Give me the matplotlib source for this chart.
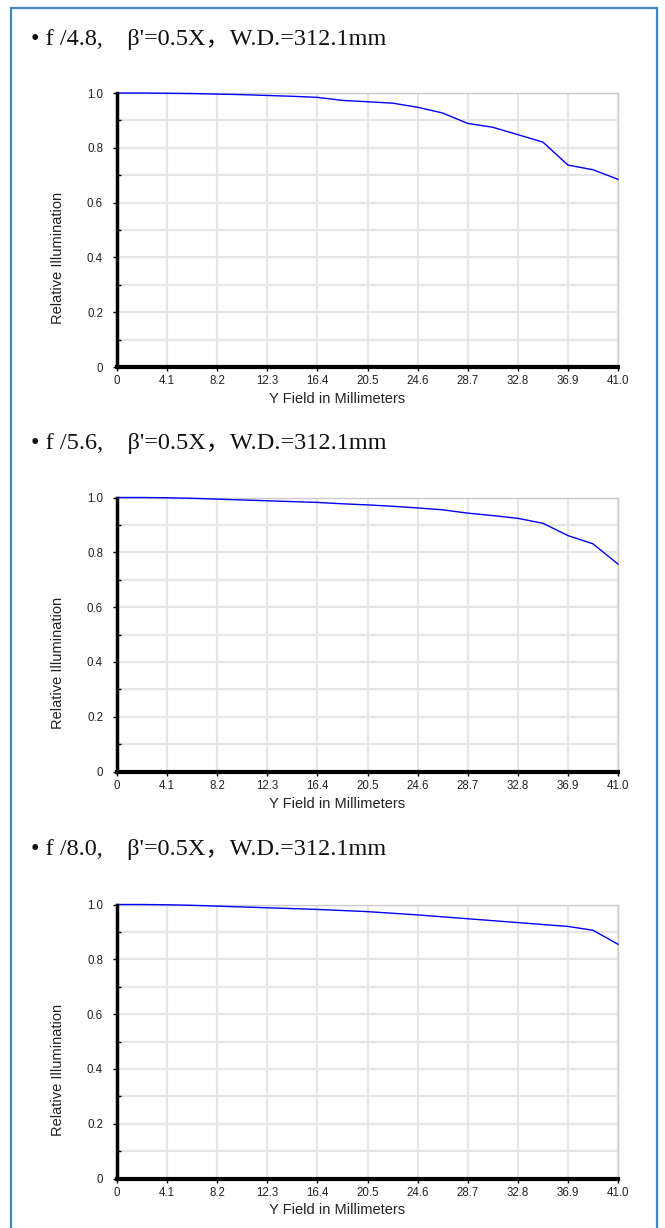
import numpy as np
import matplotlib.pyplot as plt
from matplotlib.patches import Rectangle

# field positions (mm), sampled every 2.05 mm
field = [0, 2.05, 4.1, 6.15, 8.2, 10.25, 12.3, 14.35, 16.4, 18.45, 20.5,
         22.55, 24.6, 26.65, 28.7, 30.75, 32.8, 34.85, 36.9, 38.95, 41.0]

ri_f48 = [1.000, 1.000, 0.999, 0.998, 0.996, 0.994, 0.991, 0.988, 0.984, 0.973, 0.968,
          0.963, 0.948, 0.927, 0.889, 0.875, 0.848, 0.821, 0.737, 0.720, 0.685]
ri_f56 = [1.000, 1.000, 0.999, 0.997, 0.994, 0.991, 0.988, 0.985, 0.982, 0.977, 0.973,
          0.968, 0.962, 0.955, 0.943, 0.934, 0.924, 0.906, 0.861, 0.831, 0.757]
ri_f80 = [1.000, 1.000, 0.999, 0.997, 0.994, 0.991, 0.988, 0.985, 0.982, 0.978, 0.974,
          0.968, 0.962, 0.955, 0.948, 0.941, 0.934, 0.927, 0.920, 0.906, 0.855]

titles = ["• f /4.8,    β'=0.5X，W.D.=312.1mm",
          "• f /5.6,    β'=0.5X，W.D.=312.1mm",
          "• f /8.0,    β'=0.5X，W.D.=312.1mm"]

xticks = [0, 4.1, 8.2, 12.3, 16.4, 20.5, 24.6, 28.7, 32.8, 36.9, 41.0]
xticklabels = ["0", "4.1", "8.2", "12.3", "16.4", "20.5", "24.6", "28.7", "32.8", "36.9", "41.0"]
yticks = [0, 0.2, 0.4, 0.6, 0.8, 1.0]
yticklabels = ["0", "0.2", "0.4", "0.6", "0.8", "1.0"]

W, H = 665, 1228
fig = plt.figure(figsize=(W / 100, H / 100), dpi=100)
fig.patch.set_facecolor("white")

# blue frame around the page (open at the bottom)
frame = Rectangle((11 / W, -0.05), (657 - 11) / W, (H - 8) / H + 0.05,
                  transform=fig.transFigure, fill=False, edgecolor="#3f87c9", lw=1.6)
fig.add_artist(frame)

tops = [93, 497.5, 904.5]
title_y = [39, 443, 850]
series = [ri_f48, ri_f56, ri_f80]
left, right, ht = 117, 618, 274

for i in range(3):
    top = tops[i]
    ax = fig.add_axes([left / W, 1 - (top + ht) / H, (right - left) / W, ht / H])
    ax.plot(field, series[i], color="#0000ff", lw=1.0, zorder=3, clip_on=False)
    ax.set_xlim(0, 41.0)
    ax.set_ylim(0, 1.0)
    ax.set_xticks(xticks)
    ax.set_xticklabels(xticklabels, fontsize=8.3, color="#222222", family="Liberation Sans")
    ax.set_yticks(yticks)
    ax.set_yticklabels(yticklabels, fontsize=8.3, color="#222222", family="Liberation Sans")
    ax.set_yticks(np.arange(0.1, 1.0, 0.2), minor=True)
    ax.grid(True, which="both", color="#e6e6e6", lw=1.6, zorder=0)
    ax.tick_params(axis="x", which="major", length=3, width=1, color="black", pad=3)
    ax.tick_params(axis="y", which="major", length=3, width=1, color="black", pad=7)
    ax.tick_params(axis="y", which="minor", direction="in", length=3, width=1, color="black")
    for s in ["top", "right"]:
        ax.spines[s].set_color("#cccccc")
        ax.spines[s].set_linewidth(1)
    ax.spines["left"].set_linewidth(2.5)
    ax.spines["bottom"].set_linewidth(3)
    ax.spines["left"].set_zorder(4)
    ax.spines["bottom"].set_zorder(4)

    fig.text(337 / W, 1 - (top + ht + 32) / H, "Y Field in Millimeters",
             ha="center", va="center", fontsize=10.5, family="Liberation Sans", color="#222222")
    fig.text(58 / W, 1 - (top + 165) / H, "Relative Illumination", rotation=90,
             ha="center", va="center", fontsize=10.5, family="Liberation Sans", color="#222222")
    fig.text(31 / W, 1 - title_y[i] / H, titles[i], ha="left", va="center", fontsize=17.5,
             family=["Liberation Serif", "Noto Sans CJK SC"], color="#111111")

fig.savefig("out.png", dpi=100)
